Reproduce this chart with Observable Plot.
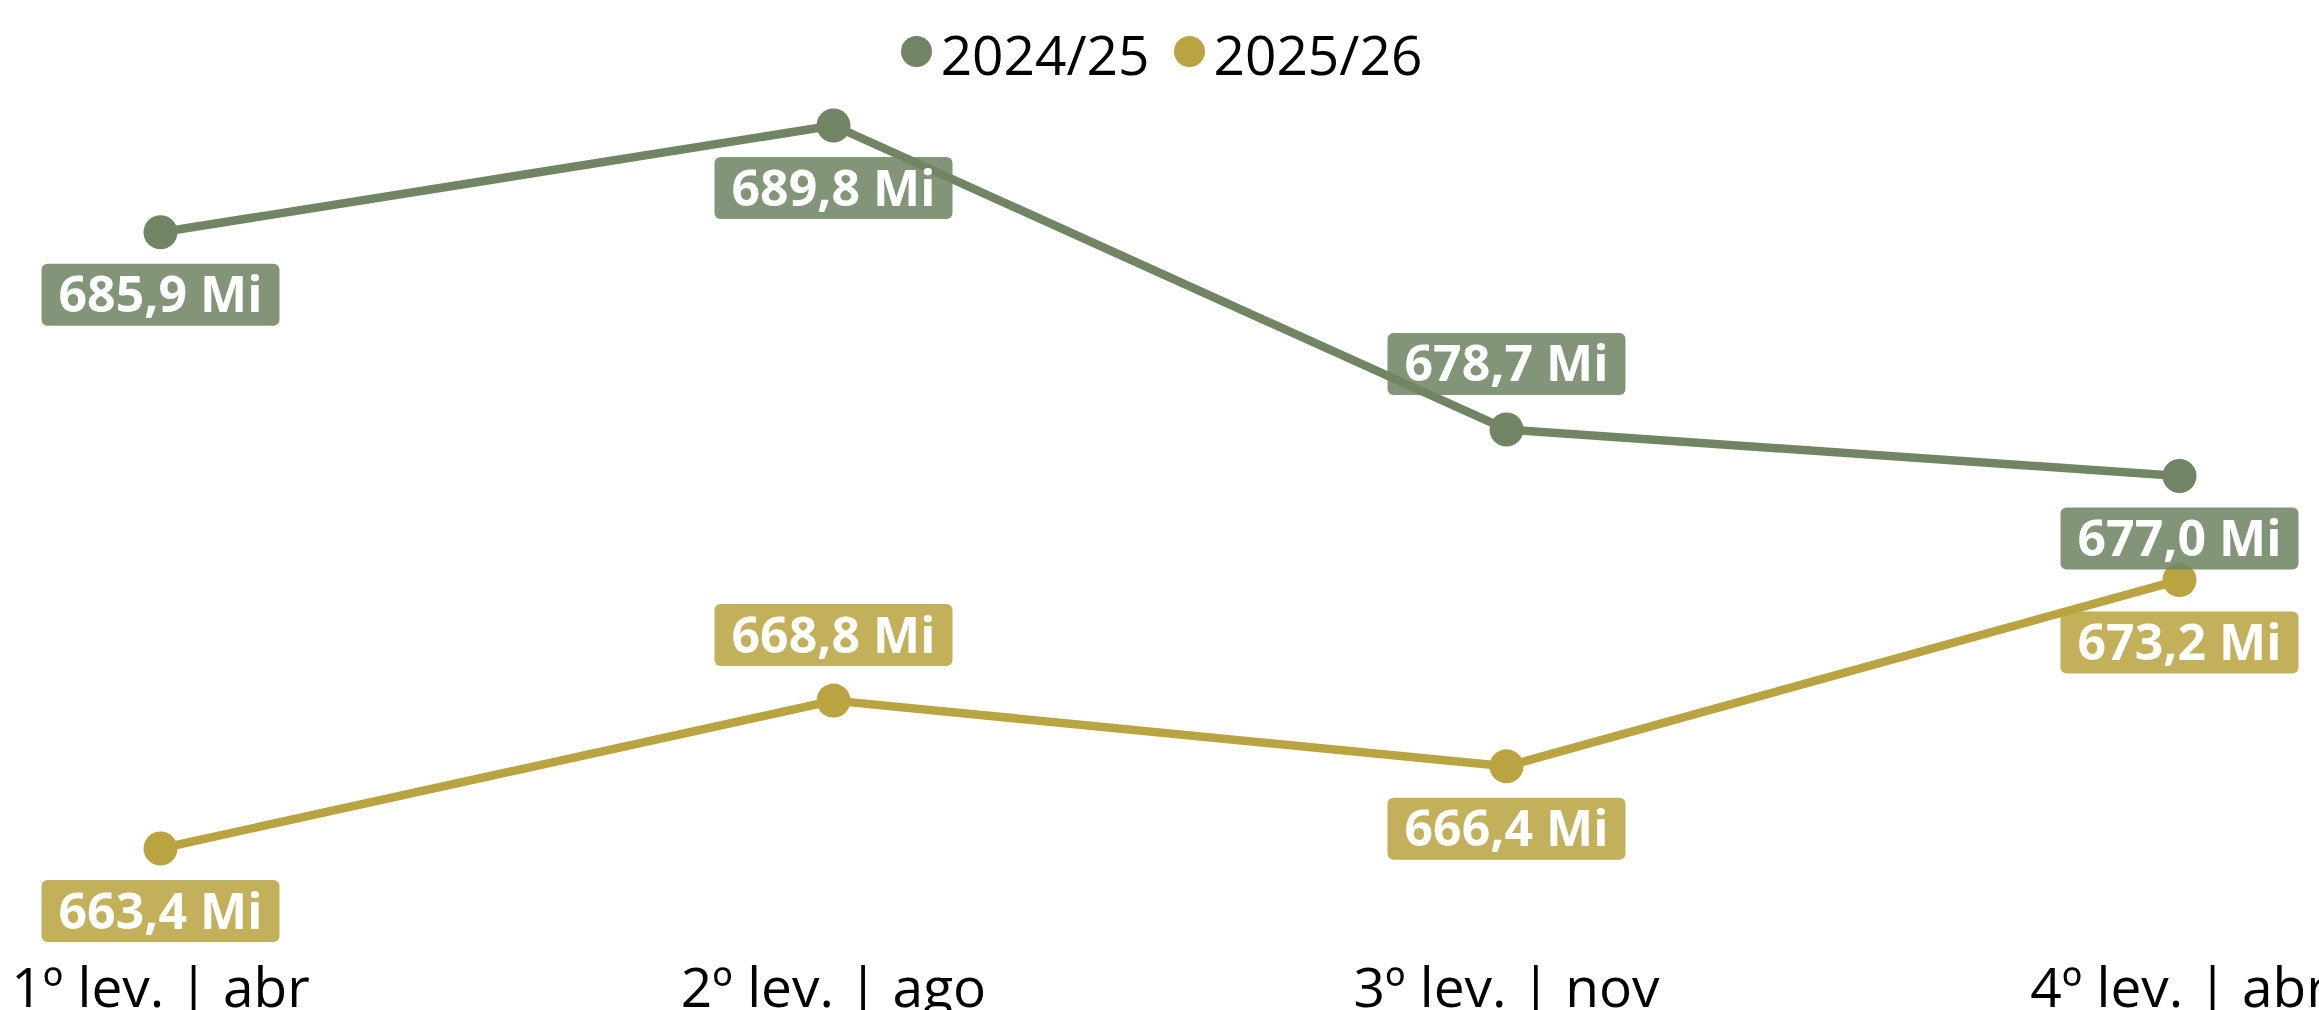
<!DOCTYPE html>
<html>
<head>
<meta charset="utf-8">
<script src="https://cdn.jsdelivr.net/npm/d3@7"></script>
<script src="https://cdn.jsdelivr.net/npm/@observablehq/plot@0.6"></script>
<style>
  html, body { margin: 0; padding: 0; background: #fff; overflow: hidden; }
  body { width: 2319px; height: 1010px; font-family: "Open Sans", sans-serif; }
  #legend { height: 100px; display: flex; justify-content: center; align-items: flex-start; padding-left: 4px; box-sizing: border-box; overflow: visible; }
  .item { display: flex; align-items: center; margin: 0 12px; height: 106px; }
  .item .sw { width: 31px; height: 31px; border-radius: 50%; margin-right: 9px; margin-top: -4px; }
  .item span { font-size: 55px; color: #000; line-height: 1; }
  #chart svg { display: block; }
</style>
</head>
<body>
<div id="legend"></div>
<div id="chart"></div>
<script>
// ---- data ----
const categories = ["1º lev. | abr", "2º lev. | ago", "3º lev. | nov", "4º lev. | abr"];
const seriesNames = ["2024/25", "2025/26"];
const values2024 = [685.9, 689.8, 678.7, 677.0];
const values2025 = [663.4, 668.8, 666.4, 673.2];
// which labels sit above their point
const labelAbove2024 = [false, false, true, false];
const labelAbove2025 = [false, true, false, false];

// ---- styling ----
const colors = ["#718564", "#b9a441"];
const fmt = v => v.toFixed(1).replace(".", ",") + " Mi";

const rows = [];
[[values2024, labelAbove2024], [values2025, labelAbove2025]].forEach(([vals, above], si) => {
  vals.forEach((v, i) => rows.push({cat: categories[i], value: v, series: seriesNames[si], above: above[i]}));
});

// legend
const legend = document.getElementById("legend");
seriesNames.forEach((s, i) => {
  const it = document.createElement("div");
  it.className = "item";
  it.innerHTML = `<div class="sw" style="background:${colors[i]}"></div><span>${s}</span>`;
  legend.appendChild(it);
});

const labelOffset = 64;
const textMarks = [];
const textColors = [];
seriesNames.forEach((s, si) => {
  [false, true].forEach(ab => {
    textMarks.push(Plot.text(rows.filter(d => d.series === s && d.above === ab), {
      x: "cat", y: "value", text: d => fmt(d.value),
      dy: ab ? -labelOffset : labelOffset,
      fill: "white", fontSize: 50, fontWeight: "bold", lineAnchor: "middle", textAnchor: "middle"
    }));
    textColors.push(colors[si]);
  });
});

const chart = Plot.plot({
  width: 2319,
  height: 910,
  marginTop: 0, marginRight: 0, marginBottom: 43, marginLeft: 0,
  style: {fontFamily: "'Open Sans', sans-serif", fontSize: "55px", color: "#000", background: "white"},
  x: {type: "point", domain: categories, range: [160, 2179], padding: 0, tickSize: 0, tickPadding: 0, label: null},
  y: {domain: [663.4, 689.8], range: [748, 25], axis: null},
  color: {domain: seriesNames, range: colors},
  marks: [
    Plot.line(rows, {x: "cat", y: "value", z: "series", stroke: "series", strokeWidth: 8.5}),
    Plot.dot(rows, {x: "cat", y: "value", fill: "series", r: 17}),
    ...textMarks
  ]
});
document.getElementById("chart").appendChild(chart);

// tick label fonts
chart.querySelectorAll('g[aria-label^="x-axis"] text').forEach(t => {
  t.style.fontSize = "55px";
  t.style.fill = "#000";
});

// label boxes behind each data label
const ns = "http://www.w3.org/2000/svg";
chart.querySelectorAll('g[aria-label="text"]').forEach((g, gi) => {
  const col = textColors[gi];
  g.querySelectorAll("text").forEach(t => {
    const b = t.getBBox();
    const w = b.width + 34, h = 62;
    const cx = b.x + b.width / 2, cy = b.y + b.height / 2 + 1.5;
    const r = document.createElementNS(ns, "rect");
    r.setAttribute("x", cx - w / 2);
    r.setAttribute("y", cy - h / 2);
    r.setAttribute("width", w);
    r.setAttribute("height", h);
    r.setAttribute("rx", 6);
    r.setAttribute("fill", col);
    r.setAttribute("fill-opacity", 0.87);
    if (t.getAttribute("transform")) r.setAttribute("transform", t.getAttribute("transform"));
    g.insertBefore(r, t);
  });
});
</script>
</body>
</html>
